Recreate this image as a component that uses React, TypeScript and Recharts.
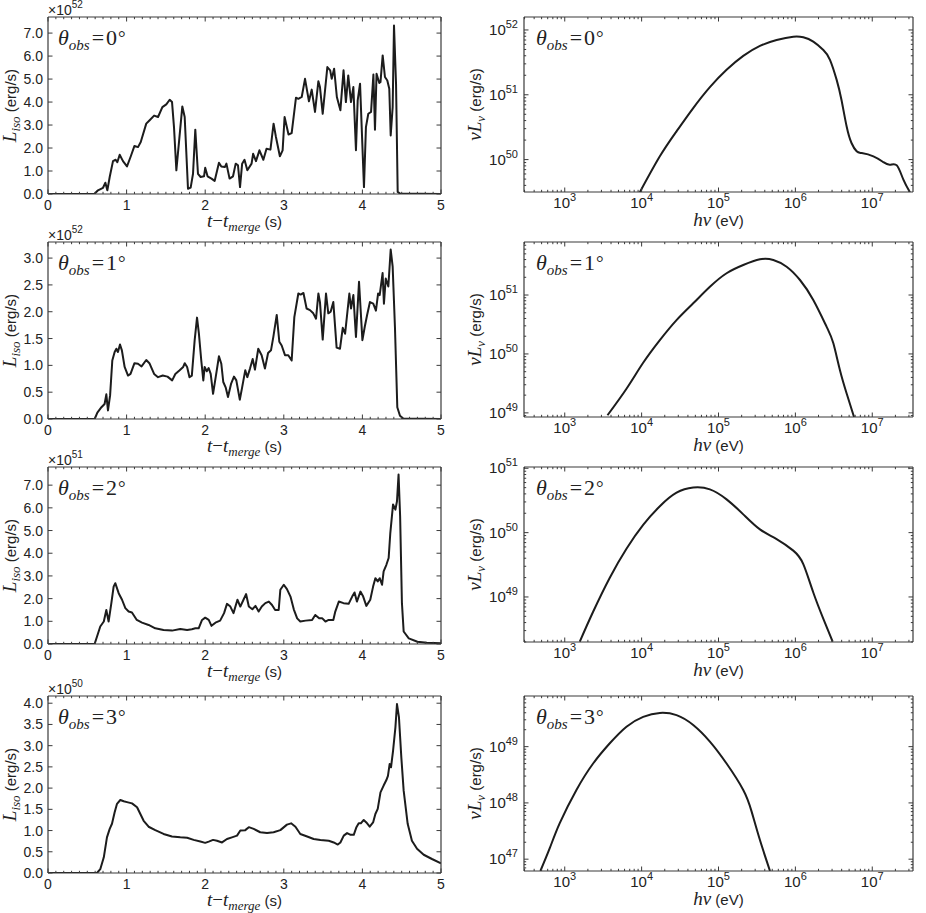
import React from 'react';
import { LineChart, Line, XAxis, YAxis } from 'recharts';

const INK = '#222222';
const FRAME = '#3a3a3a';
const SANS = '"Liberation Sans", Arial, sans-serif';
const SERIF = '"Liberation Serif", "DejaVu Serif", serif';

// page y of the top of each plot box, one per row
const rowTops = [17, 242, 467, 696];
const angles = [0, 1, 2, 3];

// light curves: [t - t_merge (s), L_iso in units of 10^exp erg/s]
const lc0 = [
  [0, 0], [0.59, 0], [0.636, 0.16], [0.7, 0.27], [0.73, 0.49], [0.755, 0.16], [0.785, 0.74], [0.827, 1.43],
  [0.861, 1.49], [0.882, 1.38], [0.912, 1.71], [0.954, 1.43], [1.005, 1.2], [1.05, 1.61], [1.1, 2.09],
  [1.145, 2.04], [1.18, 2.26], [1.25, 3.06], [1.29, 3.2], [1.35, 3.41], [1.4, 3.35], [1.455, 3.78],
  [1.505, 3.9], [1.548, 4.1], [1.578, 4.0], [1.603, 2.91], [1.633, 1.03], [1.709, 3.81], [1.739, 3.35],
  [1.781, 0.23], [1.815, 0.28], [1.845, 0.88], [1.874, 2.8], [1.908, 0.88], [1.942, 0.74], [1.985, 0.77],
  [2.0, 1.14], [2.03, 0.77], [2.08, 0.67], [2.12, 0.57], [2.175, 1.36], [2.205, 1.2], [2.25, 1.17],
  [2.27, 1.32], [2.31, 0.67], [2.354, 0.77], [2.388, 1.32], [2.417, 1.25], [2.443, 0.3], [2.47, 1.32],
  [2.5, 1.49], [2.536, 1.03], [2.59, 1.32], [2.61, 1.75], [2.646, 1.43], [2.69, 1.9], [2.74, 1.49],
  [2.78, 1.97], [2.83, 1.93], [2.87, 3.06], [2.9, 2.48], [2.95, 1.64], [2.985, 1.9], [3.01, 3.35],
  [3.06, 2.59], [3.1, 2.65], [3.155, 4.19], [3.185, 4.14], [3.228, 4.22], [3.27, 5.01], [3.32, 4.03],
  [3.355, 4.54], [3.397, 3.57], [3.44, 4.91], [3.46, 4.65], [3.495, 3.49], [3.554, 5.52], [3.59, 5.38],
  [3.61, 5.01], [3.64, 5.45], [3.675, 4.22], [3.72, 3.64], [3.76, 5.38], [3.79, 4.0], [3.82, 5.16],
  [3.855, 4.0], [3.885, 4.65], [3.918, 1.9], [3.94, 4.07], [3.97, 4.8], [4.02, 0.3], [4.045, 2.91],
  [4.075, 3.49], [4.11, 3.57], [4.14, 5.2], [4.16, 2.8], [4.18, 5.23], [4.215, 4.83], [4.23, 4.87],
  [4.258, 6.03], [4.287, 5.09], [4.317, 4.94], [4.342, 4.58], [4.36, 2.55], [4.385, 3.78], [4.402, 7.33],
  [4.428, 4.8], [4.449, 0.09], [4.479, 0.02], [5, 0],
];
const lc1 = [
  [0, 0], [0.594, 0], [0.628, 0.12], [0.68, 0.22], [0.72, 0.28], [0.742, 0.46], [0.763, 0.16], [0.79, 0.44],
  [0.818, 1.09], [0.848, 1.25], [0.87, 1.31], [0.89, 1.25], [0.916, 1.39], [0.94, 1.28], [0.975, 0.97],
  [1.018, 0.81], [1.05, 0.84], [1.1, 1.04], [1.145, 1.03], [1.19, 0.98], [1.25, 1.1], [1.29, 1.04],
  [1.35, 0.84], [1.4, 0.78], [1.46, 0.81], [1.52, 0.79], [1.58, 0.72], [1.62, 0.84], [1.675, 0.91],
  [1.72, 0.97], [1.74, 1.04], [1.77, 0.97], [1.8, 0.78], [1.83, 0.81], [1.866, 1.47], [1.896, 1.89],
  [1.92, 1.59], [1.95, 1.09], [1.976, 0.72], [1.993, 0.97], [2.02, 0.89], [2.044, 0.95], [2.07, 0.84],
  [2.1, 0.47], [2.14, 0.84], [2.175, 1.17], [2.205, 1.03], [2.23, 0.69], [2.26, 0.59], [2.29, 0.41],
  [2.33, 0.66], [2.366, 0.79], [2.396, 0.72], [2.44, 0.36], [2.47, 0.59], [2.51, 0.91], [2.536, 0.78],
  [2.57, 0.94], [2.604, 1.12], [2.633, 0.92], [2.675, 1.31], [2.718, 1.19], [2.76, 0.94], [2.8, 1.23],
  [2.837, 1.28], [2.867, 1.53], [2.91, 1.94], [2.943, 1.44], [2.973, 1.37], [3.015, 1.19], [3.057, 1.19],
  [3.1, 1.09], [3.134, 1.9], [3.185, 2.34], [3.215, 2.32], [3.25, 2.35], [3.29, 2.06], [3.333, 2.03],
  [3.375, 1.97], [3.41, 1.87], [3.44, 2.34], [3.46, 2.18], [3.495, 1.48], [3.537, 2.34], [3.566, 1.97],
  [3.596, 2.0], [3.63, 2.18], [3.672, 1.33], [3.715, 1.31], [3.75, 1.7], [3.78, 1.59], [3.834, 2.34],
  [3.855, 2.06], [3.885, 2.31], [3.918, 1.53], [3.957, 2.56], [4.0, 1.47], [4.03, 1.72], [4.06, 1.94],
  [4.096, 2.18], [4.138, 2.15], [4.172, 2.02], [4.2, 2.34], [4.22, 2.31], [4.257, 2.72], [4.274, 2.15],
  [4.297, 2.62], [4.33, 2.47], [4.36, 3.16], [4.385, 2.84], [4.414, 1.72], [4.444, 0.22], [4.478, 0.06],
  [4.52, 0.01], [5, 0],
];
const lc2 = [
  [0, 0], [0.593, 0], [0.665, 0.77], [0.71, 0.99], [0.742, 1.5], [0.771, 0.99], [0.806, 1.8], [0.835, 2.53],
  [0.856, 2.68], [0.899, 2.24], [0.942, 1.95], [0.984, 1.58], [1.026, 1.43], [1.068, 1.39], [1.13, 1.06],
  [1.196, 0.94], [1.28, 0.84], [1.365, 0.69], [1.47, 0.62], [1.577, 0.59], [1.683, 0.66], [1.77, 0.62],
  [1.83, 0.65], [1.875, 0.69], [1.917, 0.69], [1.96, 1.06], [2.0, 1.16], [2.045, 1.06], [2.08, 0.8],
  [2.13, 0.94], [2.19, 1.03], [2.24, 1.36], [2.277, 1.77], [2.32, 1.65], [2.36, 1.36], [2.41, 1.95],
  [2.447, 1.65], [2.49, 1.97], [2.52, 2.2], [2.555, 1.65], [2.6, 1.53], [2.64, 1.68], [2.68, 1.43],
  [2.72, 1.65], [2.765, 1.8], [2.81, 1.87], [2.85, 1.72], [2.89, 1.5], [2.935, 1.5], [2.956, 2.39],
  [3.0, 2.61], [3.04, 2.42], [3.085, 2.09], [3.127, 1.53], [3.17, 1.13], [3.21, 0.99], [3.277, 1.03],
  [3.36, 1.06], [3.4, 1.28], [3.45, 1.13], [3.49, 1.13], [3.53, 0.99], [3.57, 1.06], [3.63, 1.06],
  [3.655, 1.43], [3.7, 1.87], [3.76, 1.8], [3.825, 1.77], [3.87, 2.09], [3.9, 2.27], [3.93, 1.87],
  [3.975, 2.31], [4.01, 2.09], [4.05, 1.68], [4.1, 1.95], [4.136, 2.53], [4.165, 2.9], [4.195, 2.76],
  [4.22, 2.9], [4.25, 2.61], [4.27, 3.2], [4.305, 3.49], [4.334, 3.79], [4.355, 4.89], [4.39, 6.15],
  [4.42, 5.92], [4.44, 6.29], [4.46, 7.47], [4.48, 5.63], [4.503, 1.8], [4.525, 0.55], [4.59, 0.25],
  [4.7, 0.1], [4.82, 0.06], [5, 0.03],
];
const lc3 = [
  [0, 0], [0.623, 0], [0.665, 0.09], [0.71, 0.37], [0.75, 0.84], [0.785, 1.04], [0.814, 1.16], [0.848, 1.43],
  [0.878, 1.63], [0.92, 1.72], [0.963, 1.69], [1.005, 1.67], [1.069, 1.64], [1.133, 1.55], [1.175, 1.39],
  [1.217, 1.23], [1.28, 1.09], [1.365, 1.01], [1.47, 0.92], [1.577, 0.86], [1.683, 0.84], [1.77, 0.83],
  [1.853, 0.78], [1.938, 0.74], [2.0, 0.71], [2.045, 0.74], [2.1, 0.78], [2.15, 0.76], [2.214, 0.72],
  [2.277, 0.8], [2.34, 0.84], [2.405, 0.88], [2.447, 1.0], [2.51, 1.01], [2.555, 1.08], [2.617, 1.04],
  [2.7, 0.96], [2.787, 0.94], [2.87, 0.96], [2.956, 1.01], [3.04, 1.14], [3.093, 1.17], [3.148, 1.09],
  [3.21, 0.92], [3.297, 0.86], [3.38, 0.8], [3.466, 0.78], [3.572, 0.76], [3.635, 0.72], [3.687, 0.67],
  [3.72, 0.72], [3.763, 0.88], [3.805, 0.94], [3.85, 0.9], [3.89, 0.9], [3.924, 1.08], [3.953, 1.17],
  [3.98, 1.17], [4.017, 1.25], [4.05, 1.19], [4.093, 1.09], [4.136, 1.19], [4.165, 1.39], [4.195, 1.51],
  [4.23, 1.9], [4.27, 2.06], [4.305, 2.19], [4.325, 2.29], [4.347, 2.57], [4.364, 2.49], [4.39, 2.88],
  [4.42, 3.43], [4.44, 3.98], [4.465, 3.67], [4.495, 2.73], [4.525, 1.94], [4.576, 1.16], [4.63, 0.76],
  [4.695, 0.57], [4.78, 0.43], [4.885, 0.33], [5, 0.23],
];
const lightCurves = [lc0, lc1, lc2, lc3];
const lcExps = [52, 52, 51, 50];
const lcYMax = [7.7, 3.3, 7.8, 4.17];
const lcYTicks = [
  [0, 1, 2, 3, 4, 5, 6, 7],
  [0, 0.5, 1, 1.5, 2, 2.5, 3],
  [0, 1, 2, 3, 4, 5, 6, 7],
  [0, 0.5, 1, 1.5, 2, 2.5, 3, 3.5, 4],
];
const lcXTicks = [0, 1, 2, 3, 4, 5];

// spectra: [log10 hν (eV), log10 νLν (erg/s)]
const sp0 = [
  [3.977, 49.497], [4.237, 50.05], [4.454, 50.436], [4.671, 50.795], [4.888, 51.118], [5.105, 51.385],
  [5.322, 51.6], [5.539, 51.754], [5.756, 51.846], [5.973, 51.897], [6.103, 51.887], [6.233, 51.82],
  [6.364, 51.69], [6.45, 51.54], [6.537, 51.23], [6.6, 50.92], [6.667, 50.51], [6.73, 50.256],
  [6.797, 50.128], [6.863, 50.1], [7.015, 50.05], [7.145, 49.96], [7.232, 49.92], [7.32, 49.91],
  [7.405, 49.69], [7.49, 49.497],
];
const sp1 = [
  [3.556, 48.96], [3.803, 49.41], [4.02, 49.85], [4.237, 50.235], [4.454, 50.575], [4.671, 50.86],
  [4.888, 51.14], [5.105, 51.37], [5.322, 51.51], [5.539, 51.606], [5.713, 51.595], [5.886, 51.48],
  [6.06, 51.255], [6.233, 50.915], [6.407, 50.46], [6.494, 50.18], [6.58, 49.725], [6.667, 49.33],
  [6.763, 48.93],
];
const sp2 = [
  [3.195, 48.305], [3.369, 48.77], [3.586, 49.3], [3.803, 49.75], [4.02, 50.12], [4.237, 50.41],
  [4.454, 50.62], [4.671, 50.7], [4.888, 50.672], [5.105, 50.517], [5.322, 50.284], [5.539, 50.05],
  [5.756, 49.9], [5.973, 49.72], [6.103, 49.51], [6.233, 49.07], [6.364, 48.66], [6.485, 48.305],
];
const sp3 = [
  [2.683, 46.79], [2.805, 47.195], [2.935, 47.64], [3.152, 48.23], [3.369, 48.7], [3.586, 49.06],
  [3.803, 49.355], [4.02, 49.53], [4.237, 49.6], [4.454, 49.56], [4.671, 49.385], [4.888, 49.09],
  [5.105, 48.7], [5.322, 48.23], [5.43, 47.85], [5.539, 47.34], [5.67, 46.79],
];
const spectra = [sp0, sp1, sp2, sp3];
const spLogXRange = [2.47, 7.53];
const spLogYRange = [[49.5, 52.2], [48.93, 51.9], [48.3, 51.02], [46.79, 49.9]];
const spXExps = [3, 4, 5, 6, 7];
const spYExps = [[50, 51, 52], [49, 50, 51], [49, 50, 51], [47, 48, 49]];

const near = (a: number, b: number) => Math.abs(a - b) <= 1e-6 * Math.max(1, Math.abs(b));

const logTicks = (lo: number, hi: number) => {
  const out: number[] = [];
  for (let k = Math.floor(lo); k <= Math.ceil(hi); k++) {
    for (let m = 1; m <= 9; m++) {
      const v = m * Math.pow(10, k);
      const l = Math.log10(v);
      if (l >= lo && l <= hi) out.push(v);
    }
  }
  return out;
};

const Pow = ({ e, sup = 10 }: { e: number; sup?: number }) => (
  <>
    10<tspan dy={-7} fontSize={sup}>{e}</tspan>
  </>
);

type Side = 'bottom' | 'top' | 'left' | 'right';

const mkTick = (side: Side, majors: number[], label?: (v: number) => React.ReactNode, gap = 5, size = 14) =>
  (p: any) => {
    const v = p.payload.value;
    const major = majors.some((m) => near(v, m));
    const len = major ? 4.5 : 2.2;
    const { x, y } = p;
    let seg = { x1: x, y1: y, x2: x, y2: y - len };
    if (side === 'top') seg = { x1: x, y1: y, x2: x, y2: y + len };
    if (side === 'left') seg = { x1: x, y1: y, x2: x + len, y2: y };
    if (side === 'right') seg = { x1: x, y1: y, x2: x - len, y2: y };
    return (
      <g>
        <line {...seg} stroke={FRAME} strokeWidth={1} />
        {major && label && side === 'bottom' && (
          <text x={x} y={y + 16} textAnchor="middle" fill={INK} fontFamily={SANS} fontSize={size}>
            {label(v)}
          </text>
        )}
        {major && label && side === 'left' && (
          <text x={x - gap} y={y + 5} textAnchor="end" fill={INK} fontFamily={SANS} fontSize={size}>
            {label(v)}
          </text>
        )}
      </g>
    );
  };

const Theta = ({ x, y, angle }: { x: number; y: number; angle: number }) => (
  <text x={x} y={y} fill={INK} fontFamily={SERIF} fontSize={22}>
    <tspan fontStyle="italic">θ</tspan>
    <tspan fontStyle="italic" fontSize={15} dy={5}>obs</tspan>
    <tspan dy={-5} dx={2}>=</tspan>
    <tspan dx={2}>{angle}</tspan>
    <tspan dx={1} dy={-1} fontSize={19}>°</tspan>
  </text>
);

const axisLine = { stroke: FRAME, strokeWidth: 1.2 };
const TOP = 25; // space above each plot box inside its svg

function LightCurve({ row }: { row: number }) {
  const data = lightCurves[row].map(([t, l]) => ({ x: t, y: l }));
  const yMax = lcYMax[row];
  const yTicks = lcYTicks[row];
  const minorX = Array.from({ length: 51 }, (_, i) => i / 10);
  const leftLabel = (p: any) => {
    const vb = p.viewBox;
    const px = vb.x + vb.width;
    const pt = vb.y;
    const cy = pt + vb.height / 2;
    const lx = 16;
    return (
      <g>
        <text x={lx} y={cy} transform={`rotate(-90 ${lx} ${cy})`} textAnchor="middle" fill={INK}>
          <tspan fontFamily={SERIF} fontStyle="italic" fontSize={19}>L</tspan>
          <tspan fontFamily={SERIF} fontStyle="italic" fontSize={13} dy={4}>iso</tspan>
          <tspan fontFamily={SANS} fontSize={15} dy={-4}>{' (erg/s)'}</tspan>
        </text>
        <text x={px} y={pt - 2} fill={INK} fontFamily={SANS} fontSize={14}>
          ×<Pow e={lcExps[row]} />
        </text>
        <Theta x={px + 10} y={pt + 28} angle={angles[row]} />
      </g>
    );
  };
  const bottomLabel = (p: any) => {
    const vb = p.viewBox;
    const cx = vb.x + vb.width / 2;
    return (
      <text x={cx} y={vb.y + 33} textAnchor="middle" fill={INK}>
        <tspan fontFamily={SERIF} fontStyle="italic" fontSize={19}>t</tspan>
        <tspan fontFamily={SERIF} fontSize={19}>−</tspan>
        <tspan fontFamily={SERIF} fontStyle="italic" fontSize={19}>t</tspan>
        <tspan fontFamily={SERIF} fontStyle="italic" fontSize={13} dy={4}>merge</tspan>
        <tspan fontFamily={SANS} fontSize={15} dy={-4}>{' (s)'}</tspan>
      </text>
    );
  };
  return (
    <div style={{ position: 'absolute', left: 0, top: rowTops[row] - TOP }}>
      <LineChart width={460} height={TOP + 177 + 40} data={data} margin={{ top: TOP - 1, right: 18, bottom: 0, left: 0 }}>
        <XAxis
          dataKey="x" type="number" domain={[0, 5]} allowDataOverflow ticks={minorX} interval={0}
          height={40} tickSize={0} tickMargin={0} tickLine={false} axisLine={axisLine}
          tick={mkTick('bottom', lcXTicks, (v) => String(v))} label={bottomLabel}
        />
        <XAxis
          xAxisId="top" orientation="top" dataKey="x" type="number" domain={[0, 5]} allowDataOverflow
          ticks={minorX} interval={0} height={1} tickSize={0} tickMargin={0} tickLine={false}
          axisLine={axisLine} tick={mkTick('top', lcXTicks)}
        />
        <YAxis
          type="number" domain={[0, yMax]} allowDataOverflow ticks={yTicks} interval={0} width={48}
          tickSize={0} tickMargin={0} tickLine={false} axisLine={axisLine}
          tick={mkTick('left', yTicks, (v) => v.toFixed(1), 5)} label={leftLabel}
        />
        <YAxis
          yAxisId="right" orientation="right" type="number" domain={[0, yMax]} allowDataOverflow
          ticks={yTicks} interval={0} width={1} tickSize={0} tickMargin={0} tickLine={false}
          axisLine={axisLine} tick={mkTick('right', yTicks)}
        />
        <Line
          dataKey="y" type="linear" stroke="#1c1c1c" strokeWidth={2} dot={false}
          isAnimationActive={false} strokeLinejoin="round"
        />
      </LineChart>
    </div>
  );
}

function Spectrum({ row }: { row: number }) {
  const data = spectra[row].map(([e, l]) => ({ x: Math.pow(10, e), y: Math.pow(10, l) }));
  const [ylo, yhi] = spLogYRange[row];
  const [xlo, xhi] = spLogXRange;
  const xDomain = [Math.pow(10, xlo), Math.pow(10, xhi)];
  const yDomain = [Math.pow(10, ylo), Math.pow(10, yhi)];
  const xTicks = logTicks(xlo, xhi);
  const yTicks = logTicks(ylo, yhi);
  const xMajors = spXExps.map((e) => Math.pow(10, e));
  const yMajors = spYExps[row].map((e) => Math.pow(10, e));
  const powLabel = (v: number) => <Pow e={Math.round(Math.log10(v))} sup={11} />;
  const leftLabel = (p: any) => {
    const vb = p.viewBox;
    const px = vb.x + vb.width;
    const pt = vb.y;
    const cy = pt + vb.height / 2;
    const lx = 21;
    return (
      <g>
        <text x={lx} y={cy} transform={`rotate(-90 ${lx} ${cy})`} textAnchor="middle" fill={INK}>
          <tspan fontFamily={SERIF} fontStyle="italic" fontSize={19}>νL</tspan>
          <tspan fontFamily={SERIF} fontStyle="italic" fontSize={13} dy={4}>ν</tspan>
          <tspan fontFamily={SANS} fontSize={15} dy={-4}>{' (erg/s)'}</tspan>
        </text>
        <Theta x={px + 12} y={pt + 28} angle={angles[row]} />
      </g>
    );
  };
  const bottomLabel = (p: any) => {
    const vb = p.viewBox;
    const cx = vb.x + vb.width / 2;
    return (
      <text x={cx} y={vb.y + 34} textAnchor="middle" fill={INK}>
        <tspan fontFamily={SERIF} fontStyle="italic" fontSize={19}>hν</tspan>
        <tspan fontFamily={SANS} fontSize={15}>{' (eV)'}</tspan>
      </text>
    );
  };
  return (
    <div style={{ position: 'absolute', left: 460, top: rowTops[row] - TOP }}>
      <LineChart width={466} height={TOP + 175 + 42} data={data} margin={{ top: TOP - 1, right: 12, bottom: 0, left: 0 }}>
        <XAxis
          dataKey="x" type="number" scale="log" domain={xDomain} allowDataOverflow ticks={xTicks}
          interval={0} height={42} tickSize={0} tickMargin={0} tickLine={false} axisLine={axisLine}
          tick={mkTick('bottom', xMajors, powLabel, 5, 15)} label={bottomLabel}
        />
        <XAxis
          xAxisId="top" orientation="top" dataKey="x" type="number" scale="log" domain={xDomain}
          allowDataOverflow ticks={xTicks} interval={0} height={1} tickSize={0} tickMargin={0}
          tickLine={false} axisLine={axisLine} tick={mkTick('top', xMajors)}
        />
        <YAxis
          type="number" scale="log" domain={yDomain} allowDataOverflow ticks={yTicks} interval={0}
          width={64} tickSize={0} tickMargin={0} tickLine={false} axisLine={axisLine}
          tick={mkTick('left', yMajors, powLabel, 6, 15)} label={leftLabel}
        />
        <YAxis
          yAxisId="right" orientation="right" type="number" scale="log" domain={yDomain}
          allowDataOverflow ticks={yTicks} interval={0} width={1} tickSize={0} tickMargin={0}
          tickLine={false} axisLine={axisLine} tick={mkTick('right', yMajors)}
        />
        <Line
          dataKey="y" type="natural" stroke="#1c1c1c" strokeWidth={2} dot={false}
          isAnimationActive={false}
        />
      </LineChart>
    </div>
  );
}

export default function App() {
  return (
    <div style={{ position: 'absolute', left: 0, top: 0, width: 926, height: 913, background: '#fff' }}>
      {rowTops.map((_, i) => (
        <React.Fragment key={i}>
          <LightCurve row={i} />
          <Spectrum row={i} />
        </React.Fragment>
      ))}
    </div>
  );
}
